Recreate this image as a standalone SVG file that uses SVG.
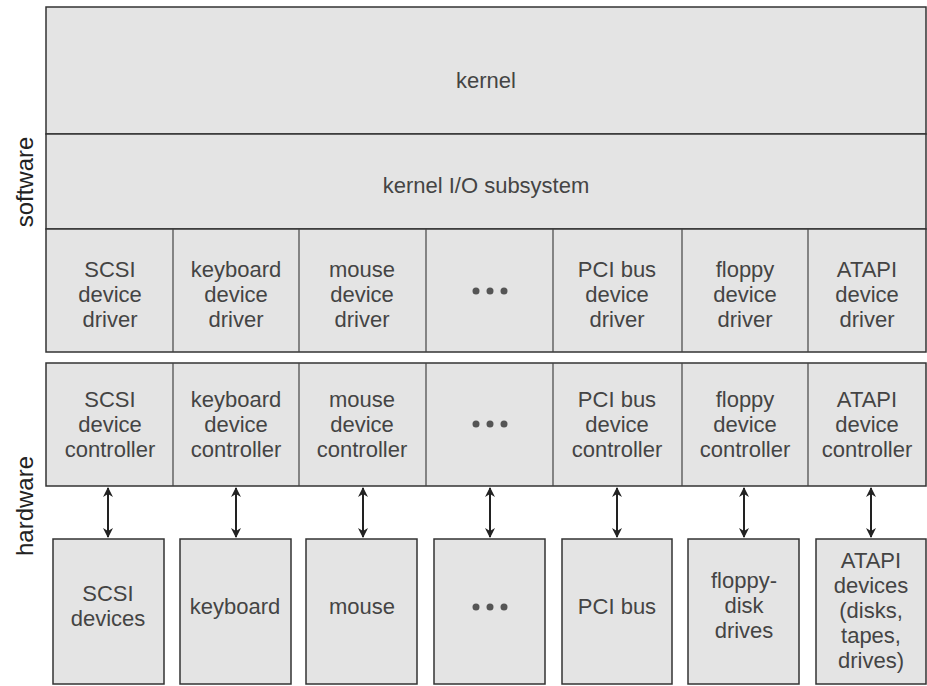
<svg xmlns="http://www.w3.org/2000/svg" width="927" height="686" viewBox="0 0 927 686">
<defs>
<style>
.box{fill:#e4e4e4;stroke:#333;stroke-width:1.5}
.div{stroke:#444;stroke-width:1.2}
.t{font-family:"Liberation Sans",Arial,sans-serif;font-size:22px;fill:#444;text-anchor:middle}
.side{font-family:"Liberation Sans",Arial,sans-serif;font-size:24px;fill:#222;text-anchor:middle}
.dot{fill:#555}
.conn{stroke:#222;stroke-width:2;fill:none;marker-start:url(#ah);marker-end:url(#ah)}
</style>
<marker id="ah" viewBox="0 0 10 10" refX="9" refY="5" markerWidth="5" markerHeight="5" orient="auto-start-reverse" markerUnits="strokeWidth">
<path d="M0,0 L10,5 L0,10 L3,5 Z" fill="#222"/>
</marker>
</defs>
<rect width="927" height="686" fill="#fff"/>
<text class="side" transform="translate(33,182) rotate(-90)">software</text>
<text class="side" transform="translate(33,506) rotate(-90)">hardware</text>

<g id="kernel">
<rect class="box" x="46" y="7" width="880" height="127"/>
<text class="t" x="486" y="88">kernel</text>
</g>
<g id="kernel-io">
<rect class="box" x="46" y="134" width="880" height="95"/>
<text class="t" x="486" y="193">kernel I/O subsystem</text>
</g>

<g id="drivers">
<rect class="box" x="46" y="229" width="880" height="123"/>
<line class="div" x1="173" y1="229" x2="173" y2="352"/>
<line class="div" x1="299" y1="229" x2="299" y2="352"/>
<line class="div" x1="426" y1="229" x2="426" y2="352"/>
<line class="div" x1="553" y1="229" x2="553" y2="352"/>
<line class="div" x1="682" y1="229" x2="682" y2="352"/>
<line class="div" x1="808" y1="229" x2="808" y2="352"/>
</g>
<g id="drv-scsi"><text class="t" x="110" y="277">SCSI</text><text class="t" x="110" y="302">device</text><text class="t" x="110" y="327">driver</text></g>
<g id="drv-keyboard"><text class="t" x="236" y="277">keyboard</text><text class="t" x="236" y="302">device</text><text class="t" x="236" y="327">driver</text></g>
<g id="drv-mouse"><text class="t" x="362" y="277">mouse</text><text class="t" x="362" y="302">device</text><text class="t" x="362" y="327">driver</text></g>
<g id="drv-dots"><circle class="dot" cx="476" cy="291" r="3.5"/><circle class="dot" cx="490" cy="291" r="3.5"/><circle class="dot" cx="504" cy="291" r="3.5"/></g>
<g id="drv-pci"><text class="t" x="617" y="277">PCI bus</text><text class="t" x="617" y="302">device</text><text class="t" x="617" y="327">driver</text></g>
<g id="drv-floppy"><text class="t" x="745" y="277">floppy</text><text class="t" x="745" y="302">device</text><text class="t" x="745" y="327">driver</text></g>
<g id="drv-atapi"><text class="t" x="867" y="277">ATAPI</text><text class="t" x="867" y="302">device</text><text class="t" x="867" y="327">driver</text></g>

<g id="controllers">
<rect class="box" x="46" y="363" width="880" height="123"/>
<line class="div" x1="173" y1="363" x2="173" y2="486"/>
<line class="div" x1="299" y1="363" x2="299" y2="486"/>
<line class="div" x1="426" y1="363" x2="426" y2="486"/>
<line class="div" x1="553" y1="363" x2="553" y2="486"/>
<line class="div" x1="682" y1="363" x2="682" y2="486"/>
<line class="div" x1="808" y1="363" x2="808" y2="486"/>
</g>
<g id="ctl-scsi"><text class="t" x="110" y="407">SCSI</text><text class="t" x="110" y="432">device</text><text class="t" x="110" y="457">controller</text></g>
<g id="ctl-keyboard"><text class="t" x="236" y="407">keyboard</text><text class="t" x="236" y="432">device</text><text class="t" x="236" y="457">controller</text></g>
<g id="ctl-mouse"><text class="t" x="362" y="407">mouse</text><text class="t" x="362" y="432">device</text><text class="t" x="362" y="457">controller</text></g>
<g id="ctl-dots"><circle class="dot" cx="476" cy="424" r="3.5"/><circle class="dot" cx="490" cy="424" r="3.5"/><circle class="dot" cx="504" cy="424" r="3.5"/></g>
<g id="ctl-pci"><text class="t" x="617" y="407">PCI bus</text><text class="t" x="617" y="432">device</text><text class="t" x="617" y="457">controller</text></g>
<g id="ctl-floppy"><text class="t" x="745" y="407">floppy</text><text class="t" x="745" y="432">device</text><text class="t" x="745" y="457">controller</text></g>
<g id="ctl-atapi"><text class="t" x="867" y="407">ATAPI</text><text class="t" x="867" y="432">device</text><text class="t" x="867" y="457">controller</text></g>

<g id="connectors">
<line class="conn" x1="108" y1="488" x2="108" y2="537"/>
<line class="conn" x1="236" y1="488" x2="236" y2="537"/>
<line class="conn" x1="363" y1="488" x2="363" y2="537"/>
<line class="conn" x1="490" y1="488" x2="490" y2="537"/>
<line class="conn" x1="617" y1="488" x2="617" y2="537"/>
<line class="conn" x1="744" y1="488" x2="744" y2="537"/>
<line class="conn" x1="871" y1="488" x2="871" y2="537"/>
</g>

<g id="dev-scsi"><rect class="box" x="53" y="539" width="111" height="145"/><text class="t" x="108" y="601">SCSI</text><text class="t" x="108" y="626">devices</text></g>
<g id="dev-keyboard"><rect class="box" x="180" y="539" width="111" height="145"/><text class="t" x="235" y="614">keyboard</text></g>
<g id="dev-mouse"><rect class="box" x="306" y="539" width="111" height="145"/><text class="t" x="362" y="614">mouse</text></g>
<g id="dev-dots"><rect class="box" x="434" y="539" width="111" height="145"/><circle class="dot" cx="476" cy="607" r="3.5"/><circle class="dot" cx="490" cy="607" r="3.5"/><circle class="dot" cx="504" cy="607" r="3.5"/></g>
<g id="dev-pci"><rect class="box" x="562" y="539" width="110" height="145"/><text class="t" x="617" y="614">PCI bus</text></g>
<g id="dev-floppy"><rect class="box" x="688" y="539" width="111" height="145"/><text class="t" x="744" y="588">floppy-</text><text class="t" x="744" y="613">disk</text><text class="t" x="744" y="638">drives</text></g>
<g id="dev-atapi"><rect class="box" x="816" y="539" width="110" height="145"/><text class="t" x="871" y="568">ATAPI</text><text class="t" x="871" y="593">devices</text><text class="t" x="871" y="618">(disks,</text><text class="t" x="871" y="643">tapes,</text><text class="t" x="871" y="668">drives)</text></g>
</svg>
